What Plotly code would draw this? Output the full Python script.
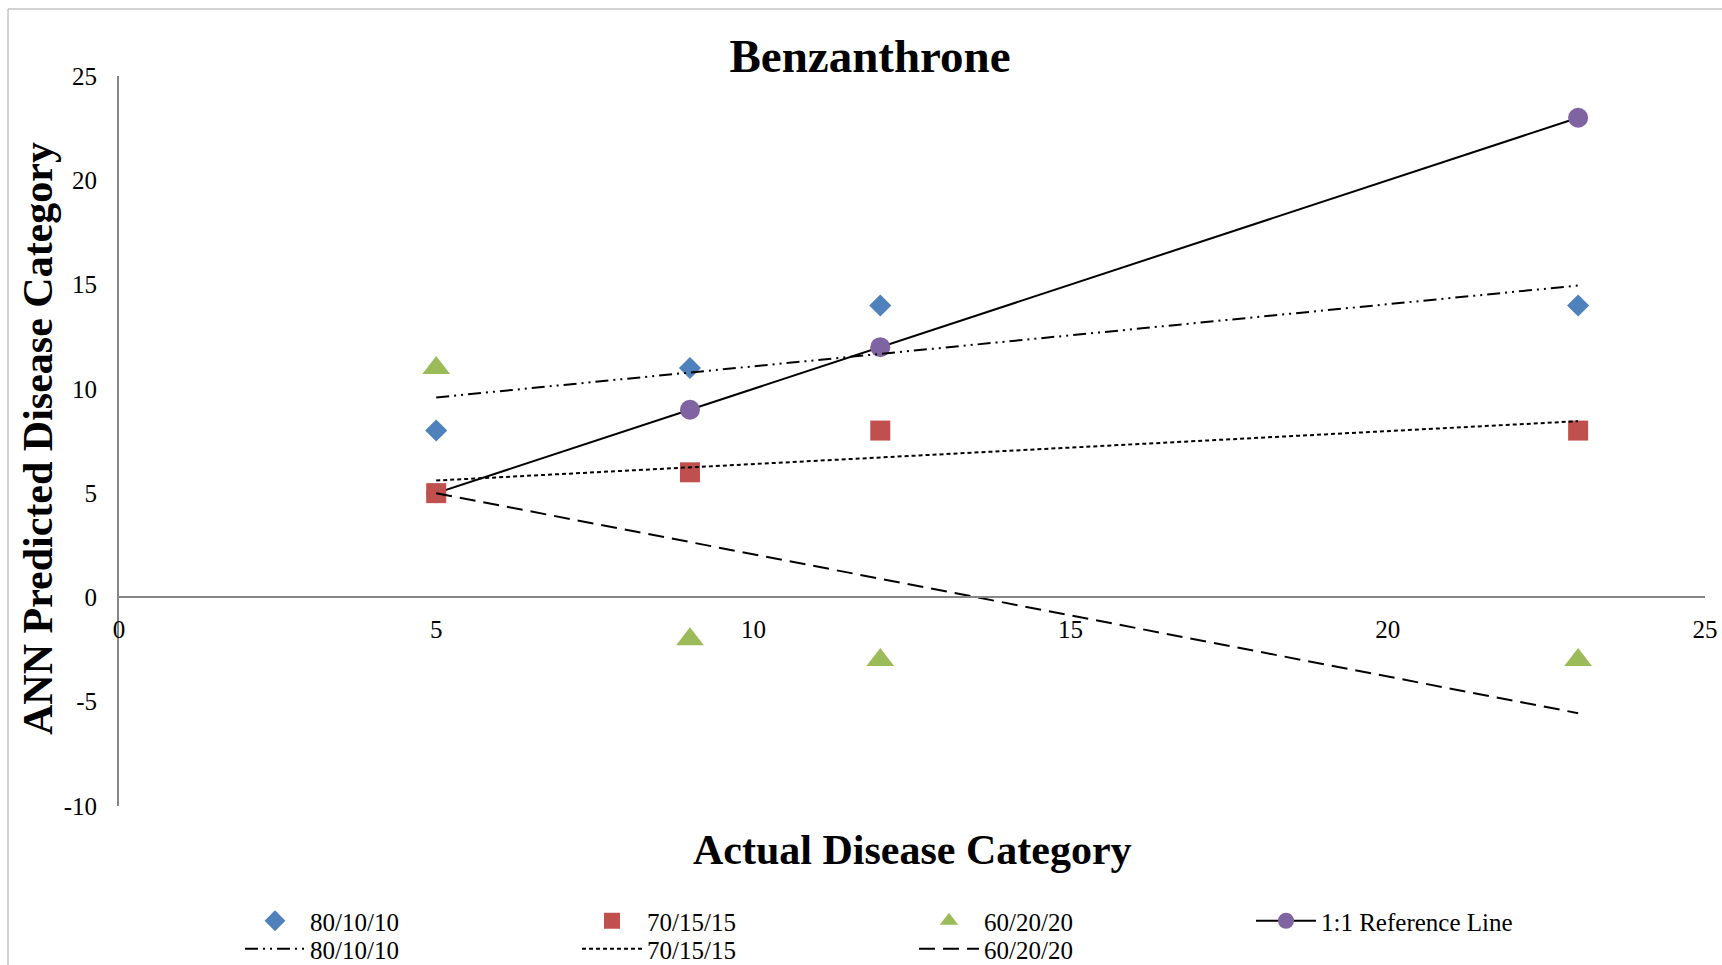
import numpy as np
import plotly.graph_objects as go

# Actual disease category (x) and ANN predictions for each data split
actual = [5, 9, 12, 23]
pred_80_10_10 = [8, 11, 14, 14]
pred_70_15_15 = [5, 6, 8, 8]
pred_60_20_20 = [11, -2, -3, -3]
reference_1to1 = [5, 9, 12, 23]

x_ticks = [0, 5, 10, 15, 20, 25]
x_tick_text = ["0", "5", "10", "15", "20", "25"]
y_ticks = [-10, -5, 0, 5, 10, 15, 20, 25]
y_tick_text = ["-10", "-5", "0", "5", "10", "15", "20", "25"]

BLUE = "#4F81BD"
RED = "#C0504D"
GREEN = "#9BBB59"
PURPLE = "#8064A2"
AXIS_GRAY = "#868686"
FONT = "Liberation Serif, Times New Roman, serif"

W, H = 1722, 965
ML, MR, MT, MB = 119, 17, 76, 159


def trend(xs, ys):
    # least-squares linear trendline over the range of the data
    slope, intercept = np.polyfit(xs, ys, 1)
    xe = [min(xs), max(xs)]
    return xe, [slope * v + intercept for v in xe]


fig = go.Figure()

# 1:1 reference line
fig.add_trace(go.Scatter(
    x=actual, y=reference_1to1, mode="lines+markers", name="1:1 Reference Line",
    line=dict(color="black", width=2),
    marker=dict(symbol="circle", size=20, color=PURPLE),
    legend="legend", legendrank=4,
))

# measured predictions
fig.add_trace(go.Scatter(
    x=actual, y=pred_80_10_10, mode="markers", name="80/10/10",
    marker=dict(symbol="diamond", size=17, color=BLUE),
    legend="legend", legendrank=1,
))
fig.add_trace(go.Scatter(
    x=actual, y=pred_70_15_15, mode="markers", name="70/15/15",
    marker=dict(symbol="square", size=20, color=RED),
    legend="legend", legendrank=2,
))
fig.add_trace(go.Scatter(
    x=actual, y=pred_60_20_20, mode="markers", name="60/20/20",
    marker=dict(symbol="triangle-up", size=24, color=GREEN),
    legend="legend", legendrank=3,
))

# linear trendlines
for ys, dash, rank in [
    (pred_80_10_10, "13px,5px,2px,5px,2px,5px", 1),
    (pred_70_15_15, "4px,3px", 2),
    (pred_60_20_20, "16px,8px", 3),
]:
    tx, ty = trend(actual, ys)
    name = {1: "80/10/10", 2: "70/15/15", 3: "60/20/20"}[rank]
    fig.add_trace(go.Scatter(
        x=tx, y=ty, mode="lines", name=name,
        line=dict(color="black", width=2, dash=dash),
        legend="legend2", legendrank=rank,
    ))

plot_w = W - ML - MR
plot_h = H - MT - MB


def px_x(px):
    return (px - ML) / plot_w


def px_y(py):
    return (H - MB - py) / plot_h


legend_common = dict(
    orientation="h", xref="container", yref="container",
    xanchor="left", yanchor="middle",
    font=dict(family=FONT, size=25, color="black"),
    itemwidth=60, entrywidth=262, entrywidthmode="pixels",
    bgcolor="rgba(0,0,0,0)", traceorder="normal",
)

fig.update_layout(
    width=W, height=H,
    margin=dict(l=ML, r=MR, t=MT, b=MB, autoexpand=False),
    paper_bgcolor="white", plot_bgcolor="white",
    font=dict(family=FONT, color="black"),
    title=dict(
        text="<b>Benzanthrone</b>", x=870 / W, xanchor="center",
        xref="container", yref="container", y=1 - 56 / H, yanchor="middle",
        font=dict(family=FONT, size=47, color="black"),
    ),
    xaxis=dict(
        range=[0, 25], tickvals=x_ticks, ticktext=x_tick_text,
        showgrid=False, zeroline=False, showline=True,
        linecolor=AXIS_GRAY, linewidth=2, ticks="",
        anchor="free", position=10 / 35, ticklabelstandoff=10,
        tickfont=dict(family=FONT, size=25, color="black"),
    ),
    yaxis=dict(
        range=[-10, 25], tickvals=y_ticks, ticktext=y_tick_text,
        showgrid=False, zeroline=False, showline=True,
        linecolor=AXIS_GRAY, linewidth=2, ticks="", ticklabelstandoff=15,
        tickfont=dict(family=FONT, size=25, color="black"),
    ),
    legend=dict(x=240 / W, y=1 - 921 / H, **legend_common),
    legend2=dict(x=240 / W, y=1 - 949 / H, **legend_common),
    showlegend=True,
    annotations=[
        dict(text="<b>Actual Disease Category</b>", xref="paper", yref="paper",
             x=0.5, y=px_y(850), xanchor="center", yanchor="middle",
             showarrow=False, font=dict(family=FONT, size=42, color="black")),
        dict(text="<b>ANN Predicted Disease Category</b>", xref="paper", yref="paper",
             x=px_x(38), y=px_y(439), xanchor="center", yanchor="middle",
             textangle=-90, showarrow=False,
             font=dict(family=FONT, size=42, color="black")),
    ],
    shapes=[
        # outer chart frame
        dict(type="rect", xref="paper", yref="paper",
             x0=px_x(8), x1=px_x(W + 20), y0=px_y(H + 20), y1=px_y(9),
             line=dict(color="#A6A6A6", width=1), fillcolor="rgba(0,0,0,0)",
             layer="below"),
    ],
)

fig.write_html("out.html")
